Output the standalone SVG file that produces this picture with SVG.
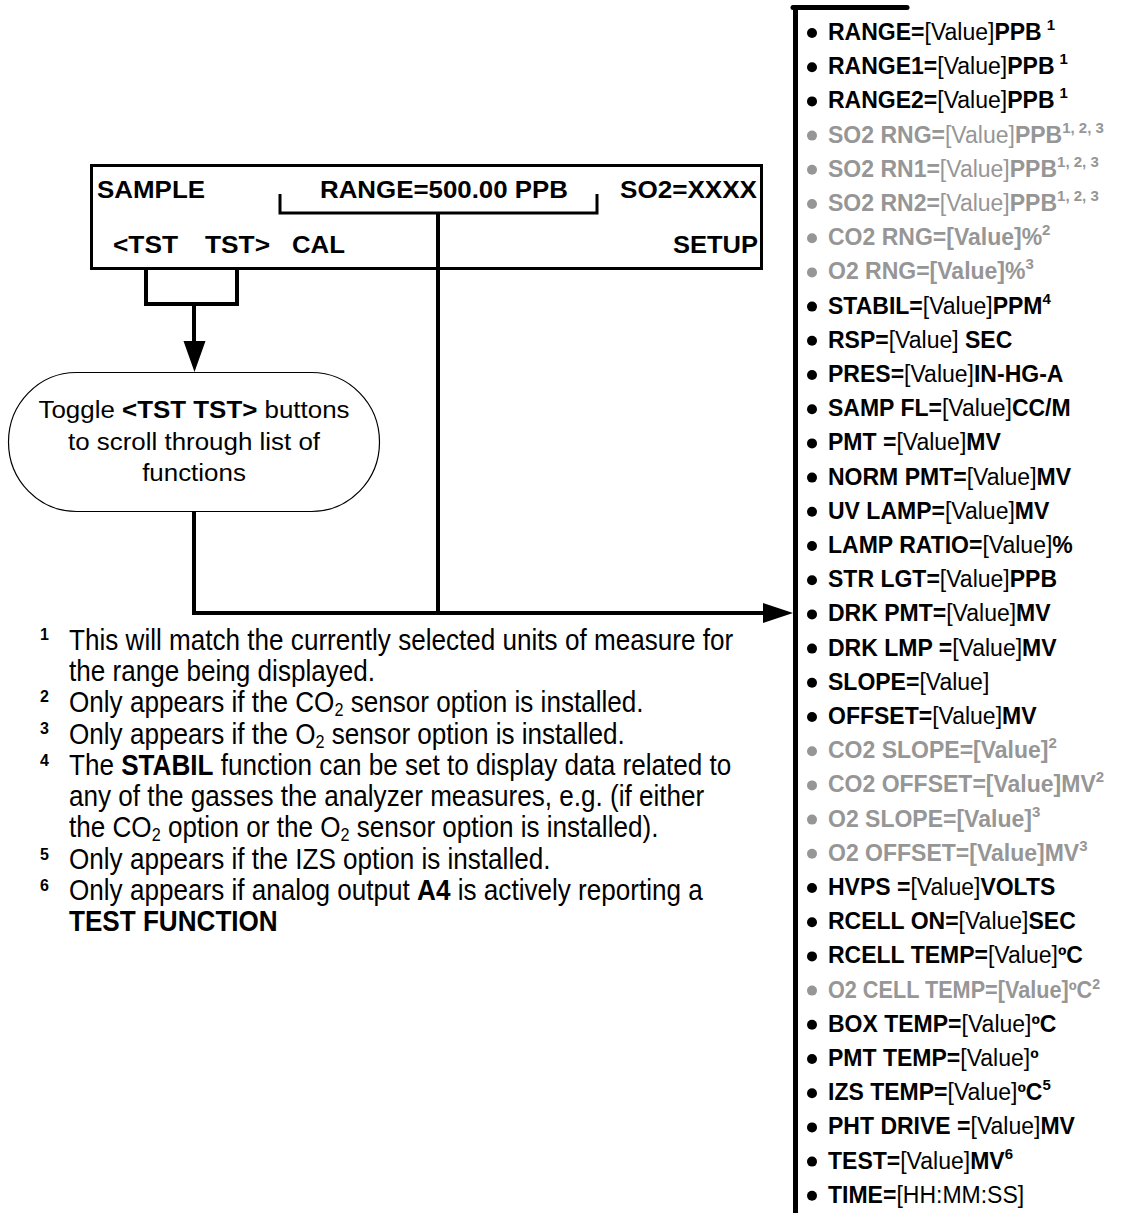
<svg xmlns="http://www.w3.org/2000/svg" width="1128" height="1213" viewBox="0 0 1128 1213">
<defs>
<style>
text{font-family:"Liberation Sans",Arial,sans-serif;fill:#000}
.bx{font-size:24px;font-weight:bold}
.st{font-size:24px}
.li{font-size:23px;font-weight:bold}
.n{font-weight:normal}
.b{font-weight:bold}
.g,.g tspan{fill:#969696}
.sup{font-size:15px;font-weight:bold}
.fn{font-size:29px}
.fs{font-size:16px;font-weight:bold}
.sub{font-size:18px}
.ln{stroke:#000;fill:none;stroke-width:4}
.thin{stroke:#000;fill:none;stroke-width:3}
.bul{fill:#000}
.gb{fill:#969696}
</style>
</defs>
<rect width="1128" height="1213" fill="#fff"/>

<g id="display">
<rect x="91.5" y="165.5" width="670" height="103" class="thin"/>
<text class="bx" x="97" y="198" textLength="108" lengthAdjust="spacingAndGlyphs">SAMPLE</text>
<text class="bx" x="320" y="198" textLength="248" lengthAdjust="spacingAndGlyphs">RANGE=500.00 PPB</text>
<text class="bx" x="620" y="198" textLength="137" lengthAdjust="spacingAndGlyphs">SO2=XXXX</text>
<text class="bx" x="113" y="253" textLength="65" lengthAdjust="spacingAndGlyphs">&lt;TST</text>
<text class="bx" x="205" y="253" textLength="65" lengthAdjust="spacingAndGlyphs">TST&gt;</text>
<text class="bx" x="292" y="253" textLength="53" lengthAdjust="spacingAndGlyphs">CAL</text>
<text class="bx" x="673" y="253" textLength="85" lengthAdjust="spacingAndGlyphs">SETUP</text>
<path class="thin" d="M280,194 V213 H597 V194"/>
</g>

<g id="toggle">
<rect x="8.5" y="372.5" width="371" height="139" rx="68" ry="69.5" fill="#fff" stroke="#000" stroke-width="1.2"/>
<g transform="translate(194 0) scale(1.08 1)">
<text class="st" x="0" y="418" text-anchor="middle">Toggle <tspan class="b">&lt;TST TST&gt;</tspan> buttons</text>
<text class="st" x="0" y="450" text-anchor="middle">to scroll through list of</text>
<text class="st" x="0" y="481" text-anchor="middle">functions</text>
</g>
</g>

<g id="connectors">
<path class="ln" d="M146,269 V304 H237 V269"/>
<path class="ln" d="M194,304 V342"/>
<polygon points="183.5,341 205.5,341 194.5,372" fill="#000"/>
<path class="ln" d="M438,213 V613"/>
<path class="ln" d="M194,512 V613 H765"/>
<polygon points="763,603 763,623 793,613" fill="#000"/>
</g>

<g id="list">
<path d="M795.5,7 V1213" stroke="#000" stroke-width="5" fill="none"/>
<path d="M793,7.5 H907" stroke="#000" stroke-width="5" fill="none" stroke-linecap="round"/>

<g id="i0"><circle class="bul" cx="812" cy="33" r="5"/><text class="li" x="828" y="40">RANGE=<tspan class="n">[Value]</tspan>PPB<tspan class="sup" dx="5" dy="-10">1</tspan></text></g>
<g id="i1"><circle class="bul" cx="812" cy="67.2" r="5"/><text class="li" x="828" y="74.2">RANGE1=<tspan class="n">[Value]</tspan>PPB<tspan class="sup" dx="5" dy="-10">1</tspan></text></g>
<g id="i2"><circle class="bul" cx="812" cy="101.4" r="5"/><text class="li" x="828" y="108.4">RANGE2=<tspan class="n">[Value]</tspan>PPB<tspan class="sup" dx="5" dy="-10">1</tspan></text></g>
<g id="i3"><circle class="gb" cx="812" cy="135.6" r="5"/><text class="li g" x="828" y="142.6">SO2 RNG=<tspan class="n">[Value]</tspan>PPB<tspan class="sup" dy="-10">1, 2, 3</tspan></text></g>
<g id="i4"><circle class="gb" cx="812" cy="169.8" r="5"/><text class="li g" x="828" y="176.8">SO2 RN1=<tspan class="n">[Value]</tspan>PPB<tspan class="sup" dy="-10">1, 2, 3</tspan></text></g>
<g id="i5"><circle class="gb" cx="812" cy="204" r="5"/><text class="li g" x="828" y="211">SO2 RN2=<tspan class="n">[Value]</tspan>PPB<tspan class="sup" dy="-10">1, 2, 3</tspan></text></g>
<g id="i6"><circle class="gb" cx="812" cy="238.2" r="5"/><text class="li g" x="828" y="245.2">CO2 RNG=[Value]%<tspan class="sup" dy="-10">2</tspan></text></g>
<g id="i7"><circle class="gb" cx="812" cy="272.4" r="5"/><text class="li g" x="828" y="279.4">O2 RNG=[Value]%<tspan class="sup" dy="-10">3</tspan></text></g>
<g id="i8"><circle class="bul" cx="812" cy="306.6" r="5"/><text class="li" x="828" y="313.6">STABIL=<tspan class="n">[Value]</tspan>PPM<tspan class="sup" dy="-10">4</tspan></text></g>
<g id="i9"><circle class="bul" cx="812" cy="340.8" r="5"/><text class="li" x="828" y="347.8">RSP=<tspan class="n">[Value]</tspan> SEC</text></g>
<g id="i10"><circle class="bul" cx="812" cy="375" r="5"/><text class="li" x="828" y="382">PRES=<tspan class="n">[Value]</tspan>IN-HG-A</text></g>
<g id="i11"><circle class="bul" cx="812" cy="409.2" r="5"/><text class="li" x="828" y="416.2">SAMP FL=<tspan class="n">[Value]</tspan>CC/M</text></g>
<g id="i12"><circle class="bul" cx="812" cy="443.4" r="5"/><text class="li" x="828" y="450.4">PMT =<tspan class="n">[Value]</tspan>MV</text></g>
<g id="i13"><circle class="bul" cx="812" cy="477.6" r="5"/><text class="li" x="828" y="484.6">NORM PMT=<tspan class="n">[Value]</tspan>MV</text></g>
<g id="i14"><circle class="bul" cx="812" cy="511.8" r="5"/><text class="li" x="828" y="518.8">UV LAMP=<tspan class="n">[Value]</tspan>MV</text></g>
<g id="i15"><circle class="bul" cx="812" cy="546" r="5"/><text class="li" x="828" y="553">LAMP RATIO=<tspan class="n">[Value]</tspan>%</text></g>
<g id="i16"><circle class="bul" cx="812" cy="580.2" r="5"/><text class="li" x="828" y="587.2">STR LGT=<tspan class="n">[Value]</tspan>PPB</text></g>
<g id="i17"><circle class="bul" cx="812" cy="614.4" r="5"/><text class="li" x="828" y="621.4">DRK PMT=<tspan class="n">[Value]</tspan>MV</text></g>
<g id="i18"><circle class="bul" cx="812" cy="648.6" r="5"/><text class="li" x="828" y="655.6">DRK LMP =<tspan class="n">[Value]</tspan>MV</text></g>
<g id="i19"><circle class="bul" cx="812" cy="682.8" r="5"/><text class="li" x="828" y="689.8">SLOPE=<tspan class="n">[Value]</tspan></text></g>
<g id="i20"><circle class="bul" cx="812" cy="717" r="5"/><text class="li" x="828" y="724">OFFSET=<tspan class="n">[Value]</tspan>MV</text></g>
<g id="i21"><circle class="gb" cx="812" cy="751.2" r="5"/><text class="li g" x="828" y="758.2">CO2 SLOPE=[Value]<tspan class="sup" dy="-10">2</tspan></text></g>
<g id="i22"><circle class="gb" cx="812" cy="785.4" r="5"/><text class="li g" x="828" y="792.4">CO2 OFFSET=[Value]MV<tspan class="sup" dy="-10">2</tspan></text></g>
<g id="i23"><circle class="gb" cx="812" cy="819.6" r="5"/><text class="li g" x="828" y="826.6">O2 SLOPE=[Value]<tspan class="sup" dy="-10">3</tspan></text></g>
<g id="i24"><circle class="gb" cx="812" cy="853.8" r="5"/><text class="li g" x="828" y="860.8">O2 OFFSET=[Value]MV<tspan class="sup" dy="-10">3</tspan></text></g>
<g id="i25"><circle class="bul" cx="812" cy="888" r="5"/><text class="li" x="828" y="895">HVPS =<tspan class="n">[Value]</tspan>VOLTS</text></g>
<g id="i26"><circle class="bul" cx="812" cy="922.2" r="5"/><text class="li" x="828" y="929.2">RCELL ON=<tspan class="n">[Value]</tspan>SEC</text></g>
<g id="i27"><circle class="bul" cx="812" cy="956.4" r="5"/><text class="li" x="828" y="963.4">RCELL TEMP=<tspan class="n">[Value]</tspan>ºC</text></g>
<g id="i28"><circle class="gb" cx="812" cy="990.6" r="5"/><text class="li g" x="828" y="997.6" textLength="272" lengthAdjust="spacingAndGlyphs">O2 CELL TEMP=[Value]ºC<tspan class="sup" dy="-9">2</tspan></text></g>
<g id="i29"><circle class="bul" cx="812" cy="1024.8" r="5"/><text class="li" x="828" y="1031.8">BOX TEMP=<tspan class="n">[Value]</tspan>ºC</text></g>
<g id="i30"><circle class="bul" cx="812" cy="1059" r="5"/><text class="li" x="828" y="1066">PMT TEMP=<tspan class="n">[Value]</tspan>º</text></g>
<g id="i31"><circle class="bul" cx="812" cy="1093.2" r="5"/><text class="li" x="828" y="1100.2">IZS TEMP=<tspan class="n">[Value]</tspan>ºC<tspan class="sup" dy="-10">5</tspan></text></g>
<g id="i32"><circle class="bul" cx="812" cy="1127.4" r="5"/><text class="li" x="828" y="1134.4">PHT DRIVE =<tspan class="n">[Value]</tspan>MV</text></g>
<g id="i33"><circle class="bul" cx="812" cy="1161.6" r="5"/><text class="li" x="828" y="1168.6">TEST=<tspan class="n">[Value]</tspan>MV<tspan class="sup" dy="-10">6</tspan></text></g>
<g id="i34"><circle class="bul" cx="812" cy="1195.8" r="5"/><text class="li" x="828" y="1202.8">TIME=<tspan class="n">[HH:MM:SS]</tspan></text></g>
</g>

<g id="footnotes">
<text class="fs" x="40" y="640">1</text>
<text class="fs" x="40" y="702">2</text>
<text class="fs" x="40" y="734">3</text>
<text class="fs" x="40" y="766">4</text>
<text class="fs" x="40" y="860">5</text>
<text class="fs" x="40" y="891" font-weight="normal">6</text>
<g transform="translate(69 0) scale(0.9 1)">
<text class="fn" x="0" y="650">This will match the currently selected units of measure for</text>
<text class="fn" x="0" y="681">the range being displayed.</text>
<text class="fn" x="0" y="712">Only appears if the CO<tspan class="sub" dy="4">2</tspan><tspan dy="-4"> sensor option is installed.</tspan></text>
<text class="fn" x="0" y="744">Only appears if the O<tspan class="sub" dy="4">2</tspan><tspan dy="-4"> sensor option is installed.</tspan></text>
<text class="fn" x="0" y="775">The <tspan class="b">STABIL</tspan> function can be set to display data related to</text>
<text class="fn" x="0" y="806">any of the gasses the analyzer measures, e.g. (if either</text>
<text class="fn" x="0" y="837">the CO<tspan class="sub" dy="4">2</tspan><tspan dy="-4"> option or the O</tspan><tspan class="sub" dy="4">2</tspan><tspan dy="-4"> sensor option is installed).</tspan></text>
<text class="fn" x="0" y="869">Only appears if the IZS option is installed.</text>
<text class="fn" x="0" y="900">Only appears if analog output <tspan class="b">A4</tspan> is actively reporting a</text>
<text class="fn b" x="0" y="931">TEST FUNCTION</text>
</g>
</g>
</svg>
